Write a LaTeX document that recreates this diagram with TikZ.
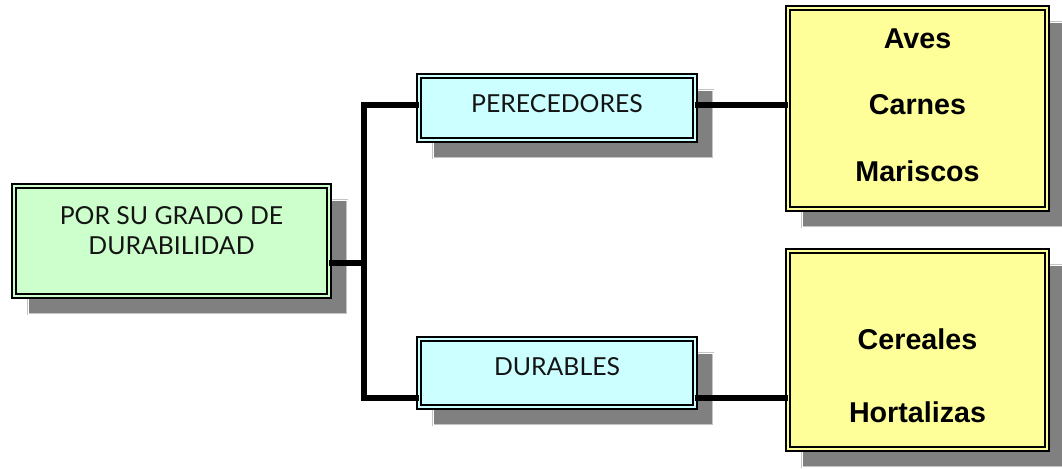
\documentclass[tikz,border=0pt]{standalone}
\usepackage{fontspec}
\setmainfont{Liberation Sans}
\newfontfamily\humfont{Lato}
\usetikzlibrary{positioning,calc,backgrounds}
\definecolor{cGreen}{HTML}{CCFFCC}
\definecolor{cCyan}{HTML}{CCFFFF}
\definecolor{cYellow}{HTML}{FFFF99}
\definecolor{cShadow}{HTML}{808080}
\definecolor{cShadowEdge}{HTML}{C4C4C4}
\definecolor{cInk}{HTML}{141414}
% raise a label inside its frame without changing the frame
\newcommand\liftup[2]{\raisebox{#1}[\height][\depth]{#2}}
\tikzset{
  dbox/.style={draw=black,double=#1,double distance=1.5pt,line width=1.3pt,fill=#1,
    rectangle,inner sep=0pt,outer sep=0pt,align=center,text=cInk},
  dbox/.default=cCyan,
  htxt/.style={font=\humfont\fontsize{18.6pt}{22.5pt}\selectfont},
  ytxt/.style={font=\bfseries\fontsize{21.5pt}{50pt}\selectfont,align=center,text=black,inner sep=0pt},
  shd/.style={fill=cShadow,draw=cShadowEdge,double=white,double distance=0.5pt,line width=0.6pt},
  link/.style={line width=4pt,black},
}
\begin{document}
\begin{tikzpicture}[x=0.75pt,y=-0.75pt]
  \useasboundingbox (0,0) rectangle (1062,468);
  % boxes
  \node[dbox=cGreen,htxt,minimum width=236pt,minimum height=82.5pt] (root) at (171.5,241)
    {\liftup{5.4pt}{\begin{tabular}{@{}c@{}}POR SU GRADO DE\\DURABILIDAD\end{tabular}}};
  \node[dbox,htxt,minimum width=207pt,minimum height=48pt] (per) at (557,108) {\liftup{3.2pt}{PERECEDORES}};
  \node[dbox,htxt,minimum width=207pt,minimum height=51pt] (dur) at (557,373) {\liftup{4.6pt}{DURABLES}};
  \node[dbox=cYellow,minimum width=194.5pt,minimum height=151pt] (ave) at (917.5,108.5) {};
  \node[dbox=cYellow,minimum width=194.5pt,minimum height=148.7pt] (cer) at (917.5,350) {};
  \node[ytxt] (aveTxt) at ([yshift=2.5pt]ave.center) {Aves\\Carnes\\Mariscos};
  \node[ytxt,font=\bfseries\fontsize{21.5pt}{54.75pt}\selectfont] (cerTxt) at ([yshift=-19.5pt]cer.center)
    {Cereales\\Hortalizas};
  % shadows
  \begin{scope}[on background layer]
    \foreach \n in {root,per,dur,ave,cer}
      \draw[shd] ([shift={(14,14)}]\n.north west) rectangle ([shift={(18,18)}]\n.south east);
  \end{scope}
  % connectors
  \coordinate (jt) at (364,105);
  \coordinate (jb) at (364,398);
  \draw[link] ([yshift=-16.5pt]root.east) -| (jt) -- (jt -| per.west);
  \draw[link] (jt) -- (jb) -- (jb -| dur.west);
  \draw[link] (jt -| per.east) -- (jt -| ave.west);
  \draw[link] (jb -| dur.east) -- (jb -| cer.west);
\end{tikzpicture}
\end{document}
